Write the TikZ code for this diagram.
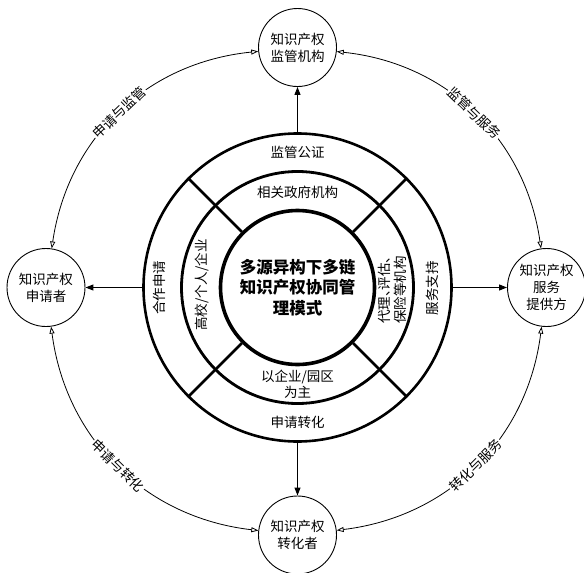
\documentclass[tikz,border=0pt]{standalone}
\usepackage{fontspec}
\setmainfont{Noto Sans CJK SC}
\usetikzlibrary{arrows.meta}
\tikzset{
  actor/.style={circle, draw, line width=0.9pt, minimum size=78pt, inner sep=0pt, align=center, font=\fontsize{13.5}{17}\selectfont},
  ring/.style={circle, draw, inner sep=0pt},
  divider/.style={line width=2.8pt},
  arr/.style={line width=1pt, -{Triangle[length=8pt,width=6pt]}},
  dbl/.style={line width=0.8pt, {Triangle[open,length=7pt,width=5pt]}-{Triangle[open,length=7pt,width=5pt]}},
  lab/.style={fill=white, inner sep=1pt, font=\fontsize{13.5}{16}\selectfont},
  band/.style={font=\fontsize{13.5}{16}\selectfont, align=center, inner sep=0pt},
}
\begin{document}
\begin{tikzpicture}[x=1pt,y=1pt]
\path[use as bounding box] (0,0) rectangle (584,-573);
\coordinate (C) at (297.5,-287.5);
% rings
\node[ring, line width=2.6pt, minimum size=308pt] (outer) at (C) {};
\node[ring, line width=2.8pt, minimum size=232pt] (middle) at (C) {};
\node[ring, line width=3.6pt, minimum size=154pt, align=center,
      font=\bfseries\fontsize{16.5}{20.5}\selectfont] (inner) at (C)
      {多源异构下多链\\知识产权协同管\\理模式};
\foreach \a in {45,135,225,315}{
  \draw[divider] (inner.\a) -- (outer.\a);
}
% band labels
\node[band] (b1) at (297.5,-152.5) {监管公证};
\node[band] (b2) at (297.5,-192) {相关政府机构};
\node[band] (b3) at (297.5,-384) {以企业/园区\\为主};
\node[band] (b4) at (297.5,-422) {申请转化};
\node[band, rotate=90] (b5) at (159,-287.5) {合作申请};
\node[band, rotate=90] (b6) at (202,-285) {高校/个人/企业};
\node[band, rotate=90] (b7) at (392,-290) {\addfontfeature{RawFeature=+halt}代理、评估、\\保险等机构};
\node[band, rotate=90] (b8) at (432,-288) {服务支持};
% actors
\node[actor] (top) at (297.5,-47.5) {知识产权\\监管机构};
\node[actor] (bottom) at (297.5,-535) {知识产权\\转化者};
\node[actor] (left) at (46,-287.5) {知识产权\\申请者};
\node[actor] (right) at (546.5,-287.5) {知识产权\\服务\\提供方};
% straight arrows
\draw[arr] (outer) -- (top);
\draw[arr] (outer) -- (bottom);
\draw[arr] (outer) -- (left);
\draw[arr] (outer) -- (right);
% curved arrows
\draw[dbl] (top) to[bend right=38] node[lab, sloped] {申请与监管} (left);
\draw[dbl] (top) to[bend left=38] node[lab, sloped] {监管与服务} (right);
\draw[dbl] (left) to[bend right=38] node[lab, sloped] {申请与转化} (bottom);
\draw[dbl] (bottom) to[bend right=38] node[lab, sloped] {转化与服务} (right);
\end{tikzpicture}
\end{document}
